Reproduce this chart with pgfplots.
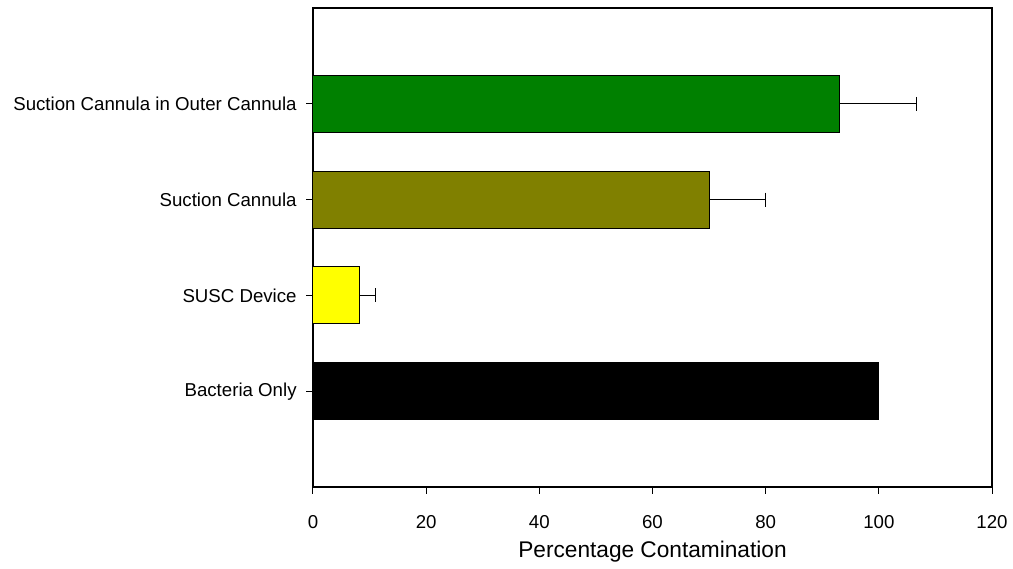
\documentclass[border=0pt]{standalone}
\usepackage{fontspec}
\setmainfont{Liberation Sans}
\usepackage{pgfplots}
\pgfplotsset{compat=1.18}
\definecolor{cgreen}{RGB}{0,128,0}
\definecolor{colive}{RGB}{128,128,0}
\definecolor{cyellow}{RGB}{255,255,0}
\begin{document}
\begin{tikzpicture}
\begin{axis}[
  at={(0,0)}, anchor=south west,
  scale only axis,
  width=509.25pt, height=359.25pt,
  xmin=0, xmax=120, ymin=0, ymax=5,
  xtick={0,20,...,120},
  ytick={1,2,3,4},
  yticklabels={Bacteria Only, SUSC Device, Suction Cannula, Suction Cannula in Outer Cannula},
  xtick pos=bottom, ytick pos=left,
  tick align=outside,
  major tick length=5pt,
  tick style={black, line width=0.75pt},
  axis line style={black, line width=0.9pt},
  /pgf/number format/assume math mode=true,
  ticklabel style={font=\fontsize{14}{16}\selectfont},
  xticklabel style={yshift=-12.5pt},
  yticklabel style={xshift=-3.75pt},
  xlabel={Percentage Contamination},
  xlabel style={font=\fontsize{17}{20}\selectfont, yshift=-3pt},
  xbar, bar width=42.75pt, bar shift=0pt,
  error bars/x dir=plus, error bars/x explicit,
  error bars/error bar style={black, line width=0.75pt},
  error bars/error mark options={black, line width=0.75pt, mark size=5.25pt, rotate=90},
]
\addplot[fill=black, draw=black, line width=0.75pt] coordinates {(100,1)};
\addplot[fill=cyellow, draw=black, line width=0.75pt] coordinates {(8.3,2) +- (2.8,0)};
\addplot[fill=colive, draw=black, line width=0.75pt] coordinates {(70,3) +- (9.9,0)};
\addplot[fill=cgreen, draw=black, line width=0.75pt] coordinates {(93.1,4) +- (13.6,0)};
\end{axis}
\pgfresetboundingbox
\path[use as bounding box] (-234.75pt,-60.75pt) rectangle (525pt,365.25pt);
\end{tikzpicture}
\end{document}
